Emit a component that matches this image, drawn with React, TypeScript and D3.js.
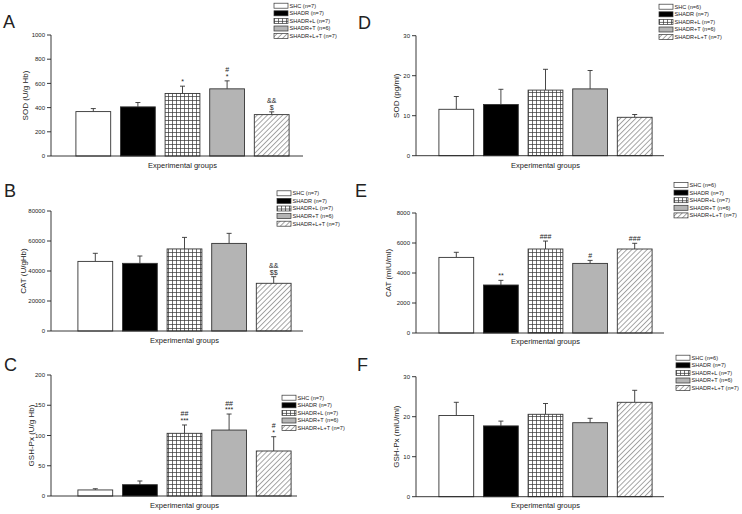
import React from 'react';
import * as d3 from 'd3';

// groups and sample sizes
const groups = ['SHC', 'SHADR', 'SHADR+L', 'SHADR+T', 'SHADR+L+T'];
const nLeft = [7, 7, 7, 6, 7];
const nRight = [6, 7, 7, 6, 7];

// A: SOD (U/g Hb)
const sodHb = [367, 406, 517, 555, 342];
const sodHbSd = [25, 36, 60, 66, 23];
const sodHbSig = ['', '', '*', '#|*', '&&|$'];
// B: CAT (U/gHb)
const catHb = [46400, 45100, 54700, 58400, 31800];
const catHbSd = [5400, 4900, 7700, 6700, 4400];
const catHbSig = ['', '', '', '', '&&|$$'];
// C: GSH-Px (U/g Hb)
const gpxHb = [10, 18.7, 103.6, 109, 74.4];
const gpxHbSd = [2, 6.1, 13.8, 26.5, 23.6];
const gpxHbSig = ['', '', '##|***', '##|***', '#|*'];
// D: SOD (pg/ml)
const sodMl = [11.6, 12.8, 16.4, 16.7, 9.6];
const sodMlSd = [3.2, 3.8, 5.2, 4.6, 0.7];
// E: CAT (mIU/ml)
const catMl = [5040, 3200, 5600, 4640, 5600];
const catMlSd = [340, 310, 530, 200, 380];
const catMlSig = ['', '**', '###', '#', '###'];
// F: GSH-Px (mIU/ml)
const gpxMl = [20.3, 17.7, 20.6, 18.5, 23.6];
const gpxMlSd = [3.3, 1.2, 2.7, 1.1, 3.0];

const fills = ['#ffffff', '#000000', 'url(#grid)', '#b4b4b4', 'url(#hatch)'];
const font = '"Liberation Sans", Arial, sans-serif';
const ink = '#222';

const panels = [
  { letter: 'A', lx: 3, ly: 28, label: 'SOD (U/g Hb)', labX: 25, values: sodHb, sd: sodHbSd, sig: sodHbSig, max: 1000, step: 200, n: nLeft,
    ax: 51, yt: 35, yb: 156, b0: 71, b1: 294, end: 303, titleY: 168, legX: 274, legY: 5.7 },
  { letter: 'B', lx: 4, ly: 197, label: 'CAT (U/gHb)', labX: 23, values: catHb, sd: catHbSd, sig: catHbSig, max: 80000, step: 20000, n: nLeft,
    ax: 51, yt: 211, yb: 331, b0: 73, b1: 296, end: 303, titleY: 343, legX: 277, legY: 193.3 },
  { letter: 'C', lx: 4, ly: 371, label: 'GSH-Px (U/g Hb)', labX: 31, values: gpxHb, sd: gpxHbSd, sig: gpxHbSig, max: 200, step: 50, n: nLeft,
    ax: 51, yt: 375, yb: 496, b0: 73, b1: 296, end: 297, titleY: 508, legX: 282, legY: 397.7 },
  { letter: 'D', lx: 358, ly: 29, label: 'SOD (pg/ml)', labX: 396, values: sodMl, sd: sodMlSd, sig: null, max: 30, step: 10, n: nRight,
    ax: 416, yt: 35.7, yb: 155.7, b0: 434, b1: 657, end: 664, titleY: 168, legX: 659, legY: 6.7 },
  { letter: 'E', lx: 355, ly: 197, label: 'CAT (mIU/ml)', labX: 388, values: catMl, sd: catMlSd, sig: catMlSig, max: 8000, step: 2000, n: nRight,
    ax: 416, yt: 213, yb: 333, b0: 434, b1: 657, end: 664, titleY: 344, legX: 674, legY: 185 },
  { letter: 'F', lx: 357, ly: 371, label: 'GSH-Px (mIU/ml)', labX: 396, values: gpxMl, sd: gpxMlSd, sig: null, max: 30, step: 10, n: nRight,
    ax: 416, yt: 376.7, yb: 496.7, b0: 434, b1: 657, end: 664, titleY: 508, legX: 676, legY: 357.7 },
];

function Panel({ p }: { p: any }) {
  const x = d3.scaleBand<string>().domain(groups).range([p.b0, p.b1]).paddingInner(0.22).paddingOuter(0.11);
  const y = d3.scaleLinear().domain([0, p.max]).range([p.yb, p.yt]);
  const ticks = d3.range(0, p.max + p.step / 2, p.step);
  const bw = x.bandwidth();
  const midY = (p.yt + p.yb) / 2;

  return (
    <g>
      <text x={p.lx} y={p.ly} fontSize={18} fill={ink} fontFamily={font}>{p.letter}</text>

      {/* bars with upper error bars and significance marks */}
      {groups.map((g, i) => {
        const top = y(p.values[i]);
        const errTop = y(p.values[i] + p.sd[i]);
        const cx = (x(g) as number) + bw / 2;
        const lines = p.sig && p.sig[i] ? p.sig[i].split('|') : [];
        return (
          <g key={g}>
            <line x1={cx} x2={cx} y1={top} y2={errTop} stroke="#333" strokeWidth={0.9} />
            <line x1={cx - 2.5} x2={cx + 2.5} y1={errTop} y2={errTop} stroke="#333" strokeWidth={0.9} />
            <rect x={x(g)} y={top} width={bw} height={p.yb - top} fill={fills[i]} stroke="#333" strokeWidth={0.9} />
            {lines.map((s: string, k: number) => (
              <text key={k} x={cx} y={errTop - 2 - (lines.length - 1 - k) * 6.5} textAnchor="middle"
                fontSize={7} fill={ink} fontFamily={font}>{s}</text>
            ))}
          </g>
        );
      })}

      {/* axes */}
      <line x1={p.ax} x2={p.end} y1={p.yb} y2={p.yb} stroke={ink} strokeWidth={0.9} />
      <line x1={p.ax} x2={p.ax} y1={p.yt} y2={p.yb} stroke={ink} strokeWidth={0.9} />
      {ticks.map(t => (
        <g key={t}>
          <line x1={p.ax - 4} x2={p.ax} y1={y(t)} y2={y(t)} stroke={ink} strokeWidth={0.9} />
          <text x={p.ax - 6} y={y(t)} dy="0.35em" textAnchor="end" fontSize={6} fill={ink} fontFamily={font}>{t}</text>
        </g>
      ))}
      <text transform={`translate(${p.labX},${midY}) rotate(-90)`} textAnchor="middle" dy="0.35em"
        fontSize={8} fill={ink} fontFamily={font}>{p.label}</text>
      <text x={(p.b0 + p.b1) / 2} y={p.titleY} textAnchor="middle" fontSize={7.5} fill={ink} fontFamily={font}>Experimental groups</text>

      {/* legend */}
      {groups.map((g, i) => (
        <g key={'l' + g} transform={`translate(${p.legX},${p.legY + i * 7.6})`}>
          <rect x={0} y={-2.5} width={14} height={5} fill={fills[i]} stroke="#333" strokeWidth={0.7} />
          <text x={15.5} y={0} dy="0.35em" fontSize={5.6} fill={ink} fontFamily={font}>{`${g} (n=${p.n[i]})`}</text>
        </g>
      ))}
    </g>
  );
}

export default function App() {
  return (
    <svg width={742} height={514} style={{ position: 'absolute', left: 0, top: 0, background: '#fff' }}>
      <defs>
        <pattern id="grid" width={4} height={4} patternUnits="userSpaceOnUse">
          <rect width={4} height={4} fill="#fff" />
          <path d="M0,0.5H4M0.5,0V4" stroke="#333" strokeWidth={0.7} />
        </pattern>
        <pattern id="hatch" width={3.6} height={3.6} patternUnits="userSpaceOnUse" patternTransform="rotate(45)">
          <rect width={3.6} height={3.6} fill="#fff" />
          <line x1={0.5} y1={0} x2={0.5} y2={3.6} stroke="#666" strokeWidth={0.6} />
        </pattern>
      </defs>
      {panels.map(p => <Panel key={p.letter} p={p} />)}
    </svg>
  );
}
